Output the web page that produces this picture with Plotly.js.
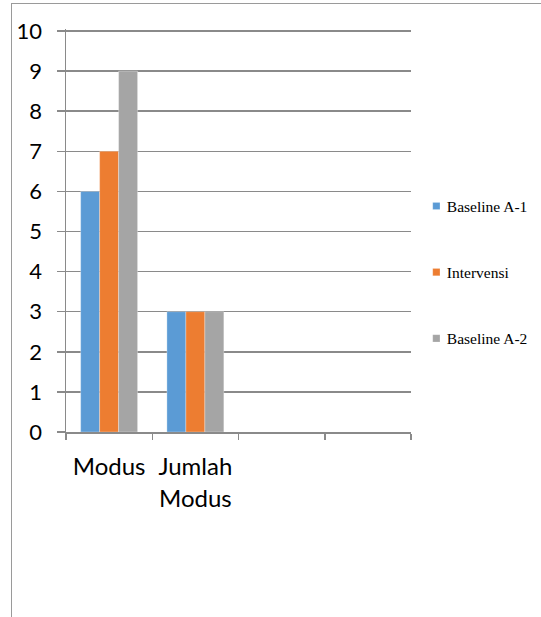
<!DOCTYPE html>
<html>
<head>
<meta charset="utf-8">
<script src="https://cdn.plot.ly/plotly-3.0.1.min.js"></script>
<style>
  html, body { margin: 0; padding: 0; background: #fff; }
  #wrap { position: relative; width: 541px; height: 617px; overflow: hidden; }
  #frame { position: absolute; left: 11px; top: 3px; width: 600px; height: 700px;
           border-left: 1.5px solid #9a9a9a; border-top: 1.5px solid #9a9a9a; }
  #chart { position: absolute; left: 0; top: 0; width: 541px; height: 617px; }
</style>
</head>
<body>
<div id="wrap">
  <div id="frame"></div>
  <div id="chart"></div>
</div>
<script>
// Categories on the x axis (the last two slots stay empty)
const categories = ["Modus", "Jumlah<br>Modus"];
const emptySlots = [" ", "  "];

// Series values
const baselineA1 = [6, 3];
const intervensi = [7, 3];
const baselineA2 = [9, 3];

const seriesNames = ["Baseline A-1", "Intervensi", "Baseline A-2"];
const seriesColors = ["#5B9BD5", "#ED7D31", "#A5A5A5"];
const seriesValues = [baselineA1, intervensi, baselineA2];

const yTicks = [0, 1, 2, 3, 4, 5, 6, 7, 8, 9, 10];

const traces = seriesValues.map((vals, i) => ({
  type: "bar",
  name: seriesNames[i],
  legendgroup: "g" + i,
  x: categories,
  y: vals,
  marker: { color: seriesColors[i], line: { color: "rgba(255,255,255,0.6)", width: 0.5 } },
  hoverinfo: "skip"
}));

const gridColor = "#8a8a8a";
const sansFont = "Lato, 'Open Sans', sans-serif";

const layout = {
  width: 541,
  height: 617,
  margin: { l: 66, r: 130, t: 29, b: 185, autoexpand: false },
  paper_bgcolor: "rgba(0,0,0,0)",
  plot_bgcolor: "rgba(0,0,0,0)",
  barmode: "group",
  bargap: 0.34,
  bargroupgap: 0,
  font: { family: sansFont, color: "#000" },
  xaxis: {
    type: "category",
    categoryorder: "array",
    categoryarray: categories.concat(emptySlots),
    range: [-0.5, 3.5],
    tickson: "boundaries",
    ticks: "outside",
    ticklen: 6,
    tickwidth: 1.5,
    tickcolor: gridColor,
    showline: true,
    linecolor: gridColor,
    linewidth: 1.5,
    showgrid: false,
    zeroline: false,
    tickfont: { family: sansFont, size: 24, color: "#000" },
    ticklabelstandoff: 13,
    automargin: false,
    fixedrange: true
  },
  yaxis: {
    // a little headroom so the gridline at 10 is kept
    range: [0, 10.05],
    tickvals: yTicks,
    ticktext: yTicks.map(String),
    ticks: "outside",
    ticklen: 8,
    tickwidth: 1.5,
    tickcolor: gridColor,
    showline: true,
    linecolor: gridColor,
    linewidth: 1.5,
    showgrid: true,
    gridcolor: gridColor,
    gridwidth: 1.5,
    zeroline: false,
    tickfont: { family: sansFont, size: 22, color: "#000" },
    ticklabelstandoff: 10,
    automargin: false,
    fixedrange: true
  },
  showlegend: true,
  legend: {
    x: 0.988,
    xanchor: "left",
    y: 0.396,
    yanchor: "middle",
    traceorder: "grouped",
    tracegroupgap: 43,
    bgcolor: "rgba(0,0,0,0)",
    borderwidth: 0,
    font: { family: "'Liberation Serif', 'Times New Roman', serif", size: 15.5, color: "#000" }
  }
};

const gd = document.getElementById("chart");
Plotly.newPlot(gd, traces, layout, { staticPlot: true, displayModeBar: false }).then(() => {
  // Smaller square legend keys, sitting closer to their labels
  document.querySelectorAll(".legend .legendpoints").forEach(g => {
    g.setAttribute("transform", "translate(17.5,0) scale(0.6)");
  });
});
</script>
</body>
</html>
